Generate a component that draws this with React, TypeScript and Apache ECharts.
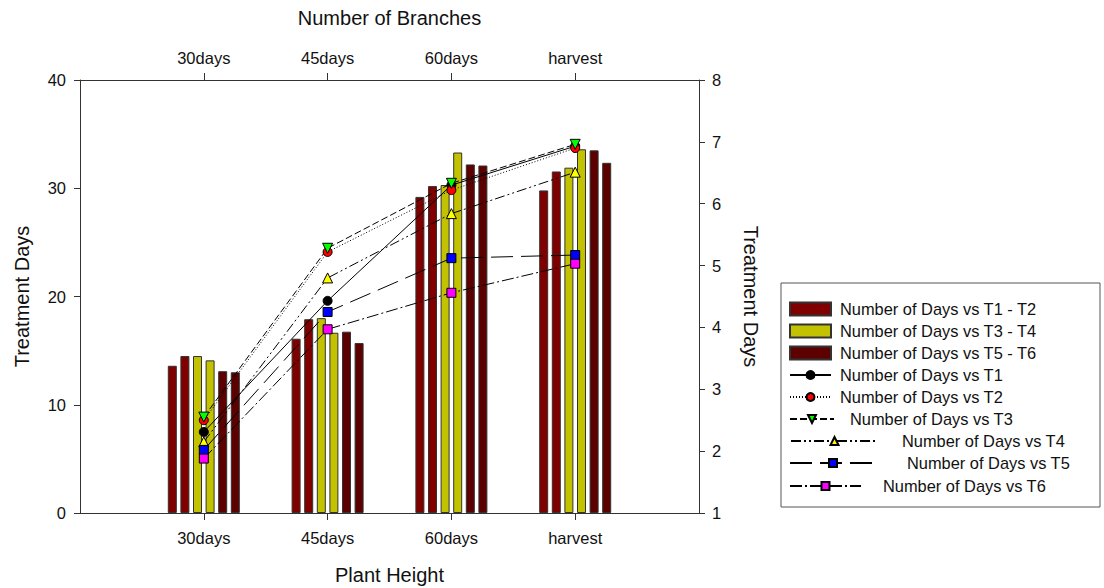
import React, { useEffect, useRef } from "react";
import * as echarts from "echarts";

const categories = ["30days", "45days", "60days", "harvest"];
const leftTicks = [0, 10, 20, 30, 40];
const rightTicks = [1, 2, 3, 4, 5, 6, 7, 8];

// Bars (left axis, Treatment Days 0-40)
const barT1 = [13.6, 16.1, 29.2, 29.8];
const barT2 = [14.5, 17.9, 30.2, 31.55];
const barT3 = [14.5, 18.0, 30.3, 31.9];
const barT4 = [14.1, 16.65, 33.3, 33.6];
const barT5 = [13.1, 16.75, 32.2, 33.5];
const barT6 = [13.0, 15.7, 32.1, 32.35];

// Lines (right axis, Treatment Days 1-8)
const lineT1 = [2.31, 4.43, 6.3, 6.93];
const lineT2 = [2.5, 5.22, 6.22, 6.9];
const lineT3 = [2.55, 5.28, 6.33, 6.96];
const lineT4 = [2.15, 4.8, 5.84, 6.51];
const lineT5 = [2.02, 4.25, 5.12, 5.17];
const lineT6 = [1.88, 3.97, 4.56, 5.03];

const FONT = "'Liberation Sans', Arial, sans-serif";
const AXIS_COLOR = "#333";
const TEXT_COLOR = "#111";

const pad = (arr: number[]) => [null, ...arr, null];
const axisCats = ["", ...categories, ""];

export default function App() {
  const ref = useRef<HTMLDivElement>(null);
  useEffect(() => {
    if (!ref.current) return;
    const chart = echarts.init(ref.current, null, { renderer: "svg" });

    const barNames = [
      "Number of Days vs T1 - T2",
      "Number of Days vs T3 - T4",
      "Number of Days vs T5 - T6",
    ];
    const barColors = ["#800000", "#c2c200", "#5c0000"];
    const bars = [barT1, barT2, barT3, barT4, barT5, barT6].map((d, i) => ({
      type: "bar",
      name: barNames[Math.floor(i / 2)],
      xAxisIndex: 0,
      yAxisIndex: 0,
      data: pad(d),
      barWidth: 9,
      barGap: "40%",
      itemStyle: {
        color: barColors[Math.floor(i / 2)],
        borderColor: "#333",
        borderWidth: 1,
      },
      z: 2,
    }));

    const lineDefs = [
      { name: "Number of Days vs T1", data: lineT1, color: "#000000", symbol: "circle", rotate: 0, dash: "solid" as any, size: 9 },
      { name: "Number of Days vs T2", data: lineT2, color: "#ff0000", symbol: "circle", rotate: 0, dash: [1, 2], size: 9 },
      { name: "Number of Days vs T3", data: lineT3, color: "#00ff00", symbol: "triangle", rotate: 180, dash: [7, 3], size: 10 },
      { name: "Number of Days vs T4", data: lineT4, color: "#ffff00", symbol: "triangle", rotate: 0, dash: [10, 3, 2, 3, 2, 3], size: 10 },
      { name: "Number of Days vs T5", data: lineT5, color: "#0000ff", symbol: "rect", rotate: 0, dash: [22, 8], size: 9 },
      { name: "Number of Days vs T6", data: lineT6, color: "#ff00ff", symbol: "rect", rotate: 0, dash: [12, 3, 2, 3], size: 9 },
    ];
    const lines = lineDefs.map((l) => ({
      type: "line",
      name: l.name,
      xAxisIndex: 0,
      yAxisIndex: 1,
      data: pad(l.data),
      symbol: l.symbol,
      symbolRotate: l.rotate,
      symbolSize: l.size,
      showSymbol: true,
      connectNulls: false,
      lineStyle: { color: "#000", width: 1, type: l.dash },
      itemStyle: { color: l.color, borderColor: "#000", borderWidth: 1 },
      z: 5,
    }));

    const legendSpecs = [
      { name: barNames[0], cy: 310, left: 789, w: 41, h: 13, gap: 9, icon: "rect" },
      { name: barNames[1], cy: 332, left: 789, w: 41, h: 13, gap: 9, icon: "rect" },
      { name: barNames[2], cy: 354, left: 789, w: 41, h: 13, gap: 9, icon: "rect" },
      { name: lineDefs[0].name, cy: 376, left: 789, w: 41, h: 10, gap: 9 },
      { name: lineDefs[1].name, cy: 398, left: 789, w: 41, h: 10, gap: 9 },
      { name: lineDefs[2].name, cy: 420, left: 789, w: 44, h: 10, gap: 16 },
      { name: lineDefs[3].name, cy: 442, left: 790, w: 87, h: 10, gap: 24 },
      { name: lineDefs[4].name, cy: 464, left: 789, w: 86, h: 10, gap: 31 },
      { name: lineDefs[5].name, cy: 487, left: 789, w: 71, h: 10, gap: 22 },
    ];
    const legends = legendSpecs.map((s) => ({
      data: [s.icon ? { name: s.name, icon: s.icon } : { name: s.name }],
      left: s.left,
      top: s.cy - 9,
      orient: "horizontal",
      itemWidth: s.w,
      itemHeight: s.h,
      padding: 0,
      selectedMode: false,
      textStyle: {
        fontFamily: FONT,
        fontSize: 16.4,
        color: TEXT_COLOR,
        padding: [0, 0, 0, s.gap - 5],
      },
    }));

    const labelStyle = { fontFamily: FONT, fontSize: 16.5, color: TEXT_COLOR };
    const nameStyle = { fontFamily: FONT, fontSize: 20, color: TEXT_COLOR };
    const axisLine = { show: true, lineStyle: { color: AXIS_COLOR, width: 1 } };
    const tickFn = (idx: number) => idx > 0 && idx < axisCats.length - 1;

    chart.setOption({
      animation: false,
      backgroundColor: "#fff",
      textStyle: { fontFamily: FONT },
      grid: { left: 80, right: 405, top: 80, bottom: 75, containLabel: false, outerBoundsMode: "none" },
      legend: legends,
      graphic: [
        {
          type: "rect",
          shape: { x: 781, y: 283, width: 319, height: 224 },
          style: { fill: "none", stroke: "#555", lineWidth: 1 },
          silent: true,
        },
      ],
      xAxis: [
        {
          type: "category",
          data: axisCats,
          position: "bottom",
          boundaryGap: false,
          name: "Plant Height",
          nameLocation: "middle",
          nameGap: 52,
          nameTextStyle: nameStyle,
          axisLine,
          axisTick: { show: true, interval: tickFn, length: 7, inside: false, lineStyle: { color: AXIS_COLOR } },
          axisLabel: { ...labelStyle, margin: 16, interval: 0 },
          splitLine: { show: false },
        },
        {
          type: "category",
          data: axisCats,
          position: "top",
          boundaryGap: false,
          name: "Number of Branches",
          nameLocation: "middle",
          nameGap: 52,
          nameTextStyle: nameStyle,
          axisLine,
          axisTick: { show: true, interval: tickFn, length: 7, inside: false, lineStyle: { color: AXIS_COLOR } },
          axisLabel: { ...labelStyle, margin: 14, interval: 0 },
          splitLine: { show: false },
        },
      ],
      yAxis: [
        {
          type: "value",
          position: "left",
          min: leftTicks[0],
          max: leftTicks[leftTicks.length - 1],
          interval: 10,
          name: "Treatment Days",
          nameLocation: "middle",
          nameGap: 48,
          nameRotate: 90,
          nameTextStyle: nameStyle,
          axisLine,
          axisTick: { show: true, length: 6, lineStyle: { color: AXIS_COLOR } },
          axisLabel: { ...labelStyle, margin: 14 },
          splitLine: { show: false },
        },
        {
          type: "value",
          position: "right",
          min: rightTicks[0],
          max: rightTicks[rightTicks.length - 1],
          interval: 1,
          name: "Treatment Days",
          nameLocation: "middle",
          nameGap: 42,
          nameRotate: -90,
          nameTextStyle: nameStyle,
          axisLine,
          axisTick: { show: true, length: 6, lineStyle: { color: AXIS_COLOR } },
          axisLabel: { ...labelStyle, margin: 13 },
          splitLine: { show: false },
        },
      ],
      series: [...bars, ...lines],
    });
    return () => chart.dispose();
  }, []);
  return (
    <div
      ref={ref}
      style={{ position: "fixed", left: 0, top: 0, width: 1104, height: 588, background: "#fff" }}
    />
  );
}
